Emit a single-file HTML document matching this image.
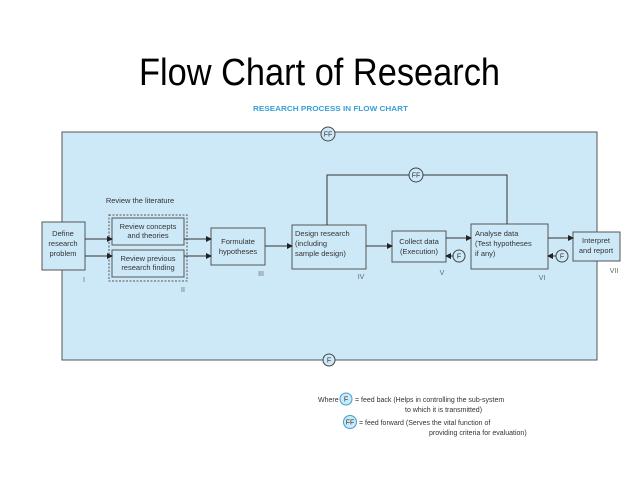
<!DOCTYPE html>
<html><head><meta charset="utf-8"><style>
html,body{margin:0;padding:0;background:#fff;}
svg{display:block;}
</style></head><body>
<svg width="638" height="479" viewBox="0 0 638 479" xmlns="http://www.w3.org/2000/svg" font-family="Liberation Sans, sans-serif">
<defs><marker id="a" markerWidth="6" markerHeight="6" refX="5" refY="3" orient="auto" markerUnits="userSpaceOnUse"><path d="M0,0 L6,3 L0,6 z" fill="#222"/></marker></defs>
<text x="139" y="85" font-size="38" textLength="361" lengthAdjust="spacingAndGlyphs" fill="#000">Flow Chart of Research</text>
<text x="253" y="111" font-size="7.5" font-weight="bold" fill="#3a9fd6" textLength="155" lengthAdjust="spacingAndGlyphs">RESEARCH PROCESS IN FLOW CHART</text>
<rect x="62" y="132" width="535" height="228" fill="#cde9f8" stroke="#555" stroke-width="1"/>
<g fill="#cde9f8" stroke="#555" stroke-width="1">
<rect x="42" y="222" width="43" height="48"/>
<rect x="109" y="215" width="78" height="66" stroke-dasharray="2,1.5"/>
<rect x="112" y="218" width="72" height="27"/>
<rect x="112" y="250" width="72" height="27"/>
<rect x="211" y="228" width="54" height="37"/>
<rect x="292" y="225" width="74" height="44"/>
<rect x="392" y="231" width="54" height="31"/>
<rect x="471" y="224" width="77" height="45"/>
<rect x="573" y="232" width="47" height="29"/>
</g>
<g stroke="#333" stroke-width="1" fill="none">
<line x1="85" y1="239" x2="112" y2="239" marker-end="url(#a)"/>
<line x1="85" y1="256" x2="112" y2="256" marker-end="url(#a)"/>
<line x1="184" y1="239" x2="211" y2="239" marker-end="url(#a)"/>
<line x1="184" y1="256" x2="211" y2="256" marker-end="url(#a)"/>
<line x1="265" y1="246" x2="292" y2="246" marker-end="url(#a)"/>
<line x1="366" y1="246" x2="392" y2="246" marker-end="url(#a)"/>
<line x1="446" y1="238" x2="471" y2="238" marker-end="url(#a)"/>
<line x1="463" y1="256" x2="446" y2="256" marker-end="url(#a)"/>
<line x1="548" y1="238" x2="573" y2="238" marker-end="url(#a)"/>
<line x1="565" y1="256" x2="548" y2="256" marker-end="url(#a)"/>
<polyline points="327,225 327,175 507,175 507,224"/>
</g>
<g fill="#cde9f8" stroke="#444" stroke-width="1">
<circle cx="328" cy="134" r="7"/>
<circle cx="416" cy="175" r="7"/>
<circle cx="459" cy="256" r="6"/>
<circle cx="562" cy="256" r="6"/>
<circle cx="329" cy="360" r="6"/>
</g>
<g font-size="7" fill="#333" text-anchor="middle">
<text x="328" y="136.5">FF</text>
<text x="416" y="177.5">FF</text>
<text x="459" y="258.5">F</text>
<text x="562" y="258.5">F</text>
<text x="329" y="362.5">F</text>
</g>
<g font-size="7.5" fill="#333" text-anchor="middle">
<text x="140" y="203">Review the literature</text>
<text x="63" y="236">Define</text><text x="63" y="246">research</text><text x="63" y="256">problem</text>
<text x="148" y="229">Review concepts</text><text x="148" y="238">and theories</text>
<text x="148" y="261">Review previous</text><text x="148" y="270">research finding</text>
<text x="238" y="244">Formulate</text><text x="238" y="254">hypotheses</text>
<text x="419" y="244">Collect data</text><text x="419" y="254">(Execution)</text>
<text x="596" y="243">Interpret</text><text x="596" y="253">and report</text>
</g>
<g font-size="7.5" fill="#333">
<text x="295" y="236">Design research</text><text x="295" y="246">(including</text><text x="295" y="256">sample design)</text>
<text x="475" y="236">Analyse data</text><text x="475" y="246">(Test hypotheses</text><text x="475" y="256">if any)</text>
</g>
<g font-size="7" fill="#666" text-anchor="middle">
<text x="84" y="282">I</text><text x="183" y="292">II</text><text x="261" y="276">III</text>
<text x="361" y="279">IV</text><text x="442" y="275">V</text><text x="542" y="280">VI</text><text x="614" y="273">VII</text>
</g>
<g font-size="7" fill="#333">
<text x="318" y="402">Where</text>
<circle cx="346" cy="399" r="6" fill="#cde9f8" stroke="#3a9fd6"/><text x="346" y="401.5" text-anchor="middle">F</text>
<text x="355" y="402">= feed back (Helps in controlling the sub-system</text>
<text x="405" y="412">to which it is transmitted)</text>
<circle cx="350" cy="422" r="6.5" fill="#cde9f8" stroke="#3a9fd6"/><text x="350" y="424.5" text-anchor="middle">FF</text>
<text x="359" y="425">= feed forward (Serves the vital function of</text>
<text x="429" y="435">providing criteria for evaluation)</text>
</g>
</svg>
</body></html>
